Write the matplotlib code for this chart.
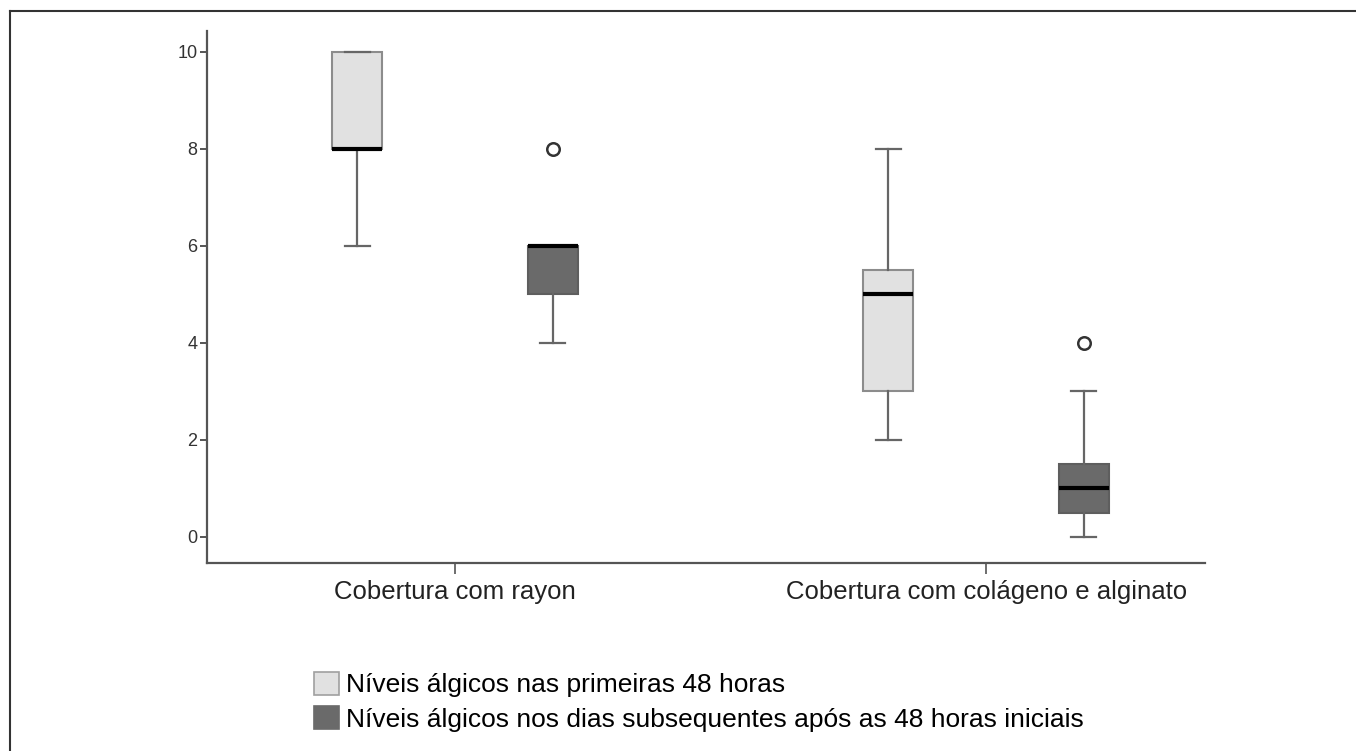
import matplotlib
matplotlib.use('Agg')
import matplotlib.pyplot as plt
from matplotlib.patches import Patch
from matplotlib.lines import Line2D

plt.rcParams['font.family'] = ['Liberation Sans', 'DejaVu Sans']

# Data
categories = ['Cobertura com rayon', 'Cobertura com colágeno e alginato']
series_labels = ['Níveis álgicos nas primeiras 48 horas',
                 'Níveis álgicos nos dias subsequentes após as 48 horas iniciais']
# per series, per category: whislo, q1, med, q3, whishi, outliers
first48_lo = [6, 2]
first48_q1 = [8, 3]
first48_med = [8, 5]
first48_q3 = [10, 5.5]
first48_hi = [10, 8]
first48_out = [[], []]
after_lo = [4, 0]
after_q1 = [5, 0.5]
after_med = [6, 1]
after_q3 = [6, 1.5]
after_hi = [6, 3]
after_out = [[8], [4]]
yticks = [0, 2, 4, 6, 8, 10]

light = '#e1e1e1'
dark = '#6a6a6a'

def make_stats(lo, q1, med, q3, hi, out):
    return [dict(whislo=lo[i], q1=q1[i], med=med[i], q3=q3[i], whishi=hi[i],
                 fliers=out[i]) for i in range(len(lo))]

fig = plt.figure(figsize=(13.56, 7.51), dpi=100)
ax = fig.add_axes([207/1356, 1-563/751, 998/1356, 532/751])

offset = 0.184
width = 0.094
pos = list(range(len(categories)))
series = [(make_stats(first48_lo, first48_q1, first48_med, first48_q3, first48_hi, first48_out), light, '#8c8c8c', -offset),
          (make_stats(after_lo, after_q1, after_med, after_q3, after_hi, after_out), dark, '#5e5e5e', offset)]
for stats, fc, ec, off in series:
    ax.bxp(stats, positions=[p + off for p in pos], widths=width,
           patch_artist=True, showfliers=True,
           boxprops=dict(facecolor=fc, edgecolor=ec, linewidth=1.5),
           medianprops=dict(color='black', linewidth=3),
           whiskerprops=dict(color='#666666', linewidth=1.6),
           capprops=dict(color='#666666', linewidth=1.6),
           capwidths=width/2,
           flierprops=dict(marker='o', markerfacecolor='white', markeredgecolor='#333333',
                           markersize=9, markeredgewidth=1.8))

ax.set_xlim(-0.467, 1.412)
ax.set_ylim(-0.54, 10.43)
ax.set_xticks(pos)
ax.set_xticklabels(categories, fontsize=18.5, color='#222222')
ax.set_yticks(yticks)
ax.set_yticklabels([str(t) for t in yticks], fontsize=13, color='#333333')
for s in ['top', 'right']:
    ax.spines[s].set_visible(False)
for s in ['left', 'bottom']:
    ax.spines[s].set_color('#555555')
    ax.spines[s].set_linewidth(1.6)
ax.tick_params(axis='y', length=5, width=1.4, color='#555555', pad=2)
ax.tick_params(axis='x', length=8, width=1.2, color='#555555', pad=4)

handles = [Patch(facecolor=light, edgecolor='#a0a0a0', linewidth=1.2),
           Patch(facecolor=dark, edgecolor=dark, linewidth=1.2)]
fig.legend(handles, series_labels, loc='upper left',
           bbox_to_anchor=(314/1356, 1-672/751), frameon=False, fontsize=19,
           handlelength=0.95, handleheight=0.95, handletextpad=0.25,
           labelspacing=0.33, borderpad=0, borderaxespad=0)

# outer frame (left and top edges visible)
fig.add_artist(Line2D([10/1356, 10/1356], [0, 1-11/751], transform=fig.transFigure,
                      color='#333333', linewidth=1.5))
fig.add_artist(Line2D([10/1356, 1], [1-11/751, 1-11/751], transform=fig.transFigure,
                      color='#333333', linewidth=1.5))

fig.savefig('out.png', dpi=100)
